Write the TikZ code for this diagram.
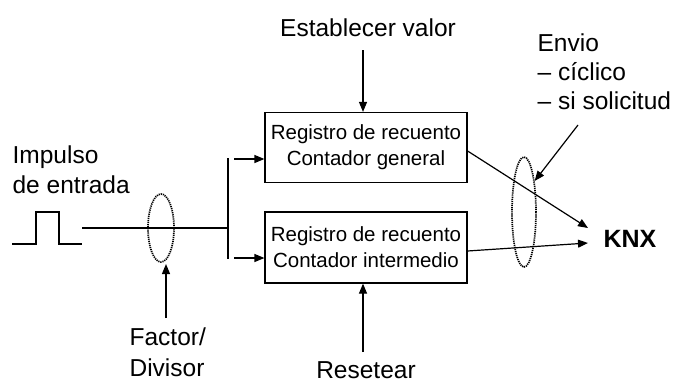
\documentclass[tikz,border=0pt]{standalone}
\usepackage{fontspec}
\setmainfont{Liberation Sans}
\usetikzlibrary{arrows.meta,shapes.geometric}
\begin{document}
\begin{tikzpicture}[x=1pt,y=-1pt,
  line width=1.2pt,
  arr/.style={-{Triangle[length=10pt,width=8pt]}},
  lab/.style={font=\fontsize{24.5}{30}\selectfont, inner sep=0pt, align=left},
  boxnode/.style={draw, minimum width=202pt, minimum height=70pt, align=center,
    font=\fontsize{20.5}{26}\selectfont, inner sep=0pt},
  ring/.style={draw, ellipse, dash pattern=on 1.2pt off 0.9pt, inner sep=0pt, line width=1.7pt}]
\useasboundingbox (0,0) rectangle (680,383);
% boxes
\node[boxnode] (b1) at (366,147.5) {Registro de recuento\\Contador general};
\node[boxnode, minimum height=71pt] (b2) at (366,247.5) {Registro de recuento\\Contador intermedio};
% rings
\node[ring, minimum width=26pt, minimum height=68pt] (e1) at (161,228) {};
\node[ring, minimum width=24pt, minimum height=110pt] (e2) at (524,212) {};
% labels
\node[lab, anchor=north west] (imp) at (12,145) {Impulso\\de entrada};
\node[lab, anchor=north] (est) at (368,18) {Establecer valor};
\node[lab, anchor=north west, font=\fontsize{24.5}{29}\selectfont] (env) at (537,33) {Envio\\– cíclico\\– si solicitud};
\node[lab, anchor=north west, font=\fontsize{24.5}{31}\selectfont] (fac) at (129,327) {Factor/\\Divisor};
\node[lab, anchor=north] (res) at (366,361) {Resetear};
\node[font=\bfseries\fontsize{25}{30}\selectfont, inner sep=0pt, anchor=west] (knx) at (603,239) {KNX};
% pulse
\coordinate (p0) at (12,244);
\draw (p0) -- (36,244) -- (36,212) -- (59,212) -- (59,244) -- (82,244);
% input line and splitter
\coordinate (in) at (82,228);
\coordinate (bt) at (228,158);
\coordinate (bb) at (228,259);
\draw (bt) -- (bb);
\draw (in) -- (in -| bt);
\coordinate (s1) at (234,159);
\coordinate (s2) at (234,258);
\draw[arr] (s1) -- (s1 -| b1.west);
\draw[arr] (s2) -- (s2 -| b2.west);
% vertical arrows
\coordinate (ea) at (363,50);
\draw[arr] (ea) -- (ea |- b1.north);
\coordinate (ra) at (363,352);
\draw[arr] (ra) -- (ra |- b2.south);
\coordinate (fa) at (166,318);
\draw[arr] (fa) -- (166,264);
% outputs
\coordinate (ka) at (588,228);
\coordinate (kb) at (588,243);
\draw[arr] ([yshift=-3.5pt]b1.east) -- (ka);
\draw[arr] ([yshift=-3.5pt]b2.east) -- (kb);
\coordinate (na) at (578,125);
\draw[arr] (na) -- (e2.71);
\end{tikzpicture}
\end{document}
